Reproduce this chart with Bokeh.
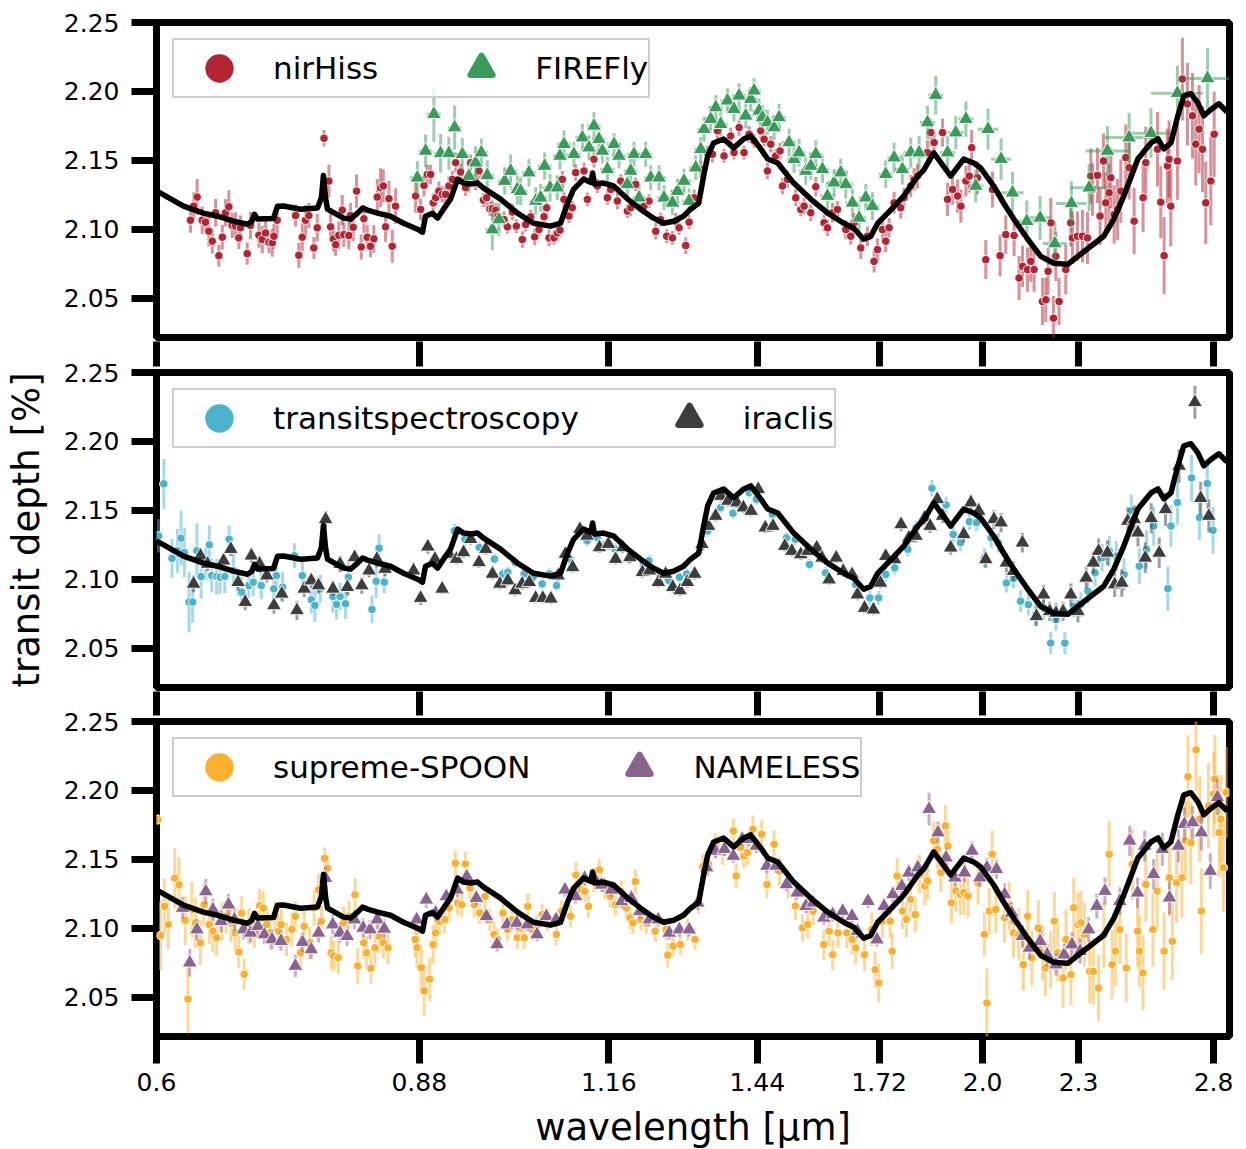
import numpy as np
from bokeh.plotting import figure
from bokeh.models import (ColumnDataSource, Range1d, FixedTicker, Legend, LegendItem,
                          LogAxis, PrintfTickFormatter)
from bokeh.layouts import column
from bokeh.embed import file_html
from bokeh.resources import INLINE

FONT = "DejaVu Sans"

# ---------------- axis ticks ----------------
x_ticks = [0.6, 0.88, 1.16, 1.44, 1.72, 2.0, 2.3, 2.8]
x_tick_labels = ["0.6", "0.88", "1.16", "1.44", "1.72", "2.0", "2.3", "2.8"]
y_ticks = [2.05, 2.10, 2.15, 2.20, 2.25]

# ---------------- model spectrum ----------------
model_wl = [0.600, 0.6035, 0.6241, 0.6425, 0.6558, 0.6712, 0.6851, 0.6895, 0.6921, 0.6952,
            0.7116, 0.7157, 0.7220, 0.7402, 0.7586, 0.7630, 0.7653, 0.7676, 0.7698, 0.7880,
            0.7961, 0.8043, 0.8101, 0.8160, 0.8280, 0.8438, 0.8600, 0.8777, 0.8841, 0.8880,
            0.8971, 0.9037, 0.9116, 0.9210, 0.9305, 0.9386, 0.9482, 0.9580, 0.9664, 0.9906,
            1.0154, 1.0393, 1.0654, 1.0811, 1.0922, 1.1018, 1.1180, 1.1300, 1.1328, 1.1360,
            1.1510, 1.1680, 1.1921, 1.2149, 1.2381, 1.2562, 1.2747, 1.2934, 1.3067, 1.3222,
            1.3318, 1.3397, 1.3514, 1.3713, 1.3914, 1.4119, 1.4264, 1.4474, 1.4622, 1.4837,
            1.5187, 1.5568, 1.5958, 1.6335, 1.6574, 1.6817, 1.6990, 1.7164, 1.7416, 1.7827,
            1.8195, 1.8355, 1.8624, 1.9091, 1.9455, 1.9741, 1.9944, 2.0326, 2.0625, 2.0929,
            2.1360, 2.1768, 2.2185, 2.2642, 2.2975, 2.3414, 2.3862, 2.4214, 2.4568, 2.5077,
            2.5559, 2.5821, 2.6046, 2.6314, 2.6583, 2.6815, 2.7090, 2.7368, 2.7610, 2.7893,
            2.8221, 2.8510, 2.8660]
model_depth = [2.1280, 2.1264, 2.1169, 2.1118, 2.1096, 2.1060, 2.1038, 2.1060, 2.1110, 2.1075,
               2.1080, 2.1169, 2.1170, 2.1147, 2.1155, 2.1230, 2.1392, 2.1230, 2.1147, 2.1082,
               2.1075, 2.1118, 2.1155, 2.1140, 2.1118, 2.1096, 2.1045, 2.1002, 2.0980, 2.1096,
               2.1118, 2.1082, 2.1147, 2.1220, 2.1365, 2.1336, 2.1330, 2.1336, 2.1300, 2.1220,
               2.1118, 2.1045, 2.1024, 2.1045, 2.1190, 2.1290, 2.1365, 2.1340, 2.1409, 2.1330,
               2.1336, 2.1315, 2.1220, 2.1147, 2.1082, 2.1045, 2.1060, 2.1096, 2.1147, 2.1190,
               2.1387, 2.1533, 2.1627, 2.1656, 2.1591, 2.1656, 2.1678, 2.1584, 2.1511, 2.1482,
               2.1336, 2.1220, 2.1118, 2.1045, 2.1009, 2.0929, 2.0950, 2.1045, 2.1118, 2.1242,
               2.1387, 2.1430, 2.1555, 2.1387, 2.1510, 2.1482, 2.1445, 2.1315, 2.1190, 2.1075,
               2.0929, 2.0805, 2.0755, 2.0747, 2.0805, 2.0878, 2.0951, 2.1075, 2.1242, 2.1511,
               2.1627, 2.1656, 2.1584, 2.1627, 2.1824, 2.1969, 2.1984, 2.1918, 2.1824, 2.1870,
               2.1911, 2.1860, 2.1870]

# ---------------- nirHiss ----------------
nirhiss_wl = [0.6305, 0.6335, 0.6366, 0.6413, 0.6444, 0.6476, 0.6508, 0.6540, 0.6571, 0.6604,
              0.6635, 0.6667, 0.6700, 0.6732, 0.6765, 0.6781, 0.6848, 0.6881, 0.6966, 0.7000,
              0.7034, 0.7069, 0.7103, 0.7120, 0.7154, 0.7348, 0.7383, 0.7420, 0.7456, 0.7492,
              0.7547, 0.7584, 0.7659, 0.7714, 0.7733, 0.7764, 0.7790, 0.7826, 0.7865, 0.7883,
              0.7941, 0.7961, 0.7992, 0.8031, 0.8086, 0.8117, 0.8157, 0.8196, 0.8236, 0.8277,
              0.8317, 0.8350, 0.8378, 0.8419, 0.8460, 0.8501, 0.8753, 0.8817, 0.8860, 0.8903,
              0.8946, 0.8980, 0.9012, 0.9055, 0.9100, 0.9144, 0.9188, 0.9234, 0.9279, 0.9346,
              0.9415, 0.9483, 0.9553, 0.9599, 0.9661, 0.9707, 0.9754, 0.9789, 0.9836, 0.9869,
              0.9956, 1.0005, 1.0078, 1.0137, 1.0226, 1.0275, 1.0351, 1.0411, 1.0476, 1.0554,
              1.0595, 1.0631, 1.0708, 1.0761, 1.0802, 1.0840, 1.0865, 1.0945, 1.0998, 1.1052,
              1.1187, 1.1242, 1.1351, 1.1408, 1.1575, 1.1631, 1.1745, 1.1802, 1.1917, 1.1975,
              1.2063, 1.2210, 1.2299, 1.2420, 1.2510, 1.2620, 1.2726, 1.2788, 1.2849, 1.2975,
              1.3039, 1.3135, 1.3262, 1.3392, 1.3490, 1.3589, 1.3720, 1.3854, 1.3921, 1.4024,
              1.4126, 1.4230, 1.4334, 1.4474, 1.4545, 1.4616, 1.4687, 1.4794, 1.4887, 1.4939,
              1.5048, 1.5232, 1.5344, 1.5418, 1.5569, 1.5683, 1.5873, 1.5952, 1.6069, 1.6186,
              1.6383, 1.6503, 1.6583, 1.6746, 1.6909, 1.7074, 1.7157, 1.7283, 1.7366, 1.7451,
              1.7579, 1.7750, 1.7836, 1.8011, 1.8098, 1.8188, 1.8455, 1.8545, 1.8635, 1.8865,
              1.9003, 1.9143, 1.9283, 1.9377, 1.9519, 1.9615, 1.9683, 1.9850, 2.0092, 2.0289,
              2.0515, 2.0686, 2.0938, 2.1091, 2.1196, 2.1351, 2.1454, 2.1557, 2.1822, 2.1928,
              2.2004, 2.2089, 2.2175, 2.2250, 2.2357, 2.2576, 2.2740, 2.2796, 2.2964, 2.3133,
              2.3302, 2.3416, 2.3474, 2.3644, 2.3734, 2.3852, 2.3931, 2.4048, 2.4108, 2.4226,
              2.4344, 2.4462, 2.4640, 2.4760, 2.4941, 2.5269, 2.5368, 2.5804, 2.5929, 2.6055,
              2.6182, 2.6246, 2.6310, 2.6566, 2.6760, 2.6957, 2.7155, 2.7285, 2.7418, 2.7554,
              2.7687, 2.7890, 2.8026]
nirhiss_depth = [2.1067, 2.1169, 2.1235, 2.1067, 2.1053, 2.0987, 2.0915, 2.1121, 2.0810, 2.0944,
                 2.1121, 2.1164, 2.1029, 2.1024, 2.0939, 2.1012, 2.0825, 2.1029, 2.0958, 2.0927,
                 2.0975, 2.0907, 2.0903, 2.0951, 2.1067, 2.1101, 2.0813, 2.0944, 2.1067, 2.1101,
                 2.0866, 2.1012, 2.1661, 2.1351, 2.1019, 2.0932, 2.0890, 2.0958, 2.1140, 2.0963,
                 2.0956, 2.1101, 2.1016, 2.1278, 2.0873, 2.1077, 2.0944, 2.0878, 2.0932, 2.1235,
                 2.1303, 2.1315, 2.1019, 2.1223, 2.0878, 2.1169, 2.1242, 2.1145, 2.1319, 2.1399,
                 2.1399, 2.1193, 2.1230, 2.1278, 2.1254, 2.1254, 2.1315, 2.1363, 2.1484, 2.1416,
                 2.1303, 2.1484, 2.1344, 2.1424, 2.1213, 2.1230, 2.1150, 2.1150, 2.1140, 2.1097,
                 2.1072, 2.1019, 2.1126, 2.1024, 2.0927, 2.1036, 2.1092, 2.0946, 2.0999, 2.1092,
                 2.1157, 2.0939, 2.0939, 2.0975, 2.0995, 2.1363, 2.1218, 2.1097, 2.1157, 2.1412,
                 2.1424, 2.1218, 2.1509, 2.1315, 2.1230, 2.1290, 2.1206, 2.1351, 2.1133, 2.1157,
                 2.1327, 2.1169, 2.1206, 2.0987, 2.1072, 2.0951, 2.0939, 2.1060, 2.1012, 2.0883,
                 2.1053, 2.1230, 2.1436, 2.1557, 2.1545, 2.1715, 2.1533, 2.1678, 2.1557, 2.1739,
                 2.1557, 2.1690, 2.1642, 2.1715, 2.1654, 2.1424, 2.1618, 2.1533, 2.1569, 2.1315,
                 2.1363, 2.1230, 2.1145, 2.1169, 2.1121, 2.1310, 2.1048, 2.1012, 2.1121, 2.1145,
                 2.0999, 2.0951, 2.1048, 2.0866, 2.0951, 2.0769, 2.0854, 2.0999, 2.0915, 2.1012,
                 2.1193, 2.1157, 2.1230, 2.1315, 2.1363, 2.1387, 2.1557, 2.1702, 2.1630, 2.1702,
                 2.1218, 2.1290, 2.1242, 2.1169, 2.1351, 2.1387, 2.1593, 2.1375, 2.0781, 2.1290,
                 2.0810, 2.0963, 2.0956, 2.0648, 2.0733, 2.0709, 2.0769, 2.0709, 2.0478, 2.0490,
                 2.0697, 2.1048, 2.0357, 2.0806, 2.0478, 2.0709, 2.1048, 2.0939, 2.0951, 2.0951,
                 2.0939, 2.1387, 2.1290, 2.1392, 2.1097, 2.1496, 2.1193, 2.1266, 2.1375, 2.1109,
                 2.1145, 2.1278, 2.1521, 2.1448, 2.1060, 2.1230, 2.1484, 2.1581, 2.1198, 2.0810,
                 2.1460, 2.1509, 2.1169, 2.1496, 2.2090, 2.1909, 2.1824, 2.1618, 2.1727, 2.1581,
                 2.1193, 2.1351, 2.1690]
nirhiss_err = [0.009, 0.010, 0.013, 0.010, 0.008, 0.011, 0.009, 0.010, 0.008, 0.009,
               0.010, 0.012, 0.009, 0.010, 0.008, 0.009, 0.008, 0.010, 0.009, 0.010,
               0.009, 0.008, 0.010, 0.009, 0.010, 0.008, 0.009, 0.010, 0.011, 0.009,
               0.008, 0.010, 0.006, 0.012, 0.010, 0.009, 0.008, 0.010, 0.011, 0.009,
               0.010, 0.009, 0.010, 0.012, 0.009, 0.010, 0.009, 0.008, 0.010, 0.013,
               0.014, 0.012, 0.011, 0.013, 0.012, 0.013, 0.012, 0.008, 0.008, 0.007,
               0.007, 0.007, 0.006, 0.007, 0.006, 0.006, 0.007, 0.006, 0.007, 0.006,
               0.006, 0.006, 0.006, 0.006, 0.005, 0.006, 0.005, 0.006, 0.005, 0.005,
               0.006, 0.005, 0.006, 0.005, 0.006, 0.005, 0.005, 0.006, 0.005, 0.006,
               0.005, 0.006, 0.005, 0.006, 0.005, 0.006, 0.006, 0.005, 0.005, 0.006,
               0.006, 0.005, 0.006, 0.005, 0.005, 0.005, 0.006, 0.005, 0.005, 0.006,
               0.005, 0.005, 0.005, 0.006, 0.005, 0.005, 0.005, 0.006, 0.005, 0.006,
               0.005, 0.006, 0.006, 0.005, 0.006, 0.006, 0.005, 0.006, 0.005, 0.006,
               0.005, 0.006, 0.005, 0.006, 0.005, 0.006, 0.006, 0.005, 0.006, 0.006,
               0.006, 0.006, 0.005, 0.006, 0.006, 0.007, 0.006, 0.006, 0.007, 0.006,
               0.007, 0.006, 0.007, 0.008, 0.007, 0.008, 0.008, 0.007, 0.008, 0.007,
               0.008, 0.008, 0.007, 0.008, 0.008, 0.009, 0.009, 0.010, 0.009, 0.010,
               0.012, 0.011, 0.012, 0.012, 0.011, 0.012, 0.013, 0.012, 0.014, 0.013,
               0.015, 0.014, 0.015, 0.016, 0.015, 0.016, 0.015, 0.016, 0.017, 0.016,
               0.017, 0.018, 0.016, 0.018, 0.017, 0.018, 0.017, 0.019, 0.018, 0.019,
               0.019, 0.020, 0.019, 0.020, 0.021, 0.020, 0.022, 0.021, 0.022, 0.021,
               0.022, 0.023, 0.024, 0.023, 0.024, 0.025, 0.026, 0.027, 0.026, 0.028,
               0.027, 0.028, 0.029, 0.028, 0.030, 0.030, 0.031, 0.030, 0.032, 0.031,
               0.030, 0.032, 0.031]

# ---------------- FIREFly ----------------
firefly_wl = [0.8775, 0.8881, 0.8989, 0.9077, 0.9188, 0.9265, 0.9369, 0.9460, 0.9553, 0.9633,
              0.9716, 0.9789, 0.9883, 0.9966, 1.0053, 1.0151, 1.0201, 1.0325, 1.0426, 1.0502,
              1.0564, 1.0647, 1.0761, 1.0802, 1.0865, 1.1024, 1.1161, 1.1269, 1.1351, 1.1434,
              1.1491, 1.1575, 1.1688, 1.1773, 1.1917, 1.1975, 1.2033, 1.2122, 1.2240, 1.2330,
              1.2480, 1.2571, 1.2726, 1.2819, 1.2943, 1.3039, 1.3166, 1.3262, 1.3327, 1.3457,
              1.3556, 1.3655, 1.3788, 1.3921, 1.4024, 1.4161, 1.4264, 1.4334, 1.4439, 1.4509,
              1.4616, 1.4758, 1.4865, 1.5084, 1.5193, 1.5306, 1.5456, 1.5569, 1.5683, 1.5836,
              1.5952, 1.6107, 1.6264, 1.6383, 1.6543, 1.6705, 1.6868, 1.7033, 1.7366, 1.7579,
              1.7793, 1.8011, 1.8231, 1.8455, 1.8679, 1.9003, 1.9232, 1.9519, 1.9801, 2.0160,
              2.0545, 2.0889, 2.1329, 2.1747, 2.2218, 2.2762, 2.3359, 2.3990, 2.4760, 2.5559,
              2.6566, 2.7755]
firefly_depth = [2.1375, 2.1569, 2.1836, 2.1552, 2.1552, 2.1739, 2.1545, 2.1387, 2.1484, 2.1557,
                 2.1392, 2.0999, 2.1072, 2.1351, 2.1424, 2.1290, 2.1278, 2.1412, 2.1206, 2.1230,
                 2.1460, 2.1303, 2.1303, 2.1533, 2.1618, 2.1545, 2.1666, 2.1593, 2.1751, 2.1654,
                 2.1569, 2.1436, 2.1618, 2.1533, 2.1327, 2.1424, 2.1545, 2.1230, 2.1545, 2.1375,
                 2.1375, 2.1230, 2.1193, 2.1278, 2.1351, 2.1206, 2.1448, 2.1581, 2.1727, 2.1800,
                 2.1884, 2.1763, 2.1933, 2.1872, 2.1969, 2.1824, 2.1945, 2.2006, 2.1860, 2.1812,
                 2.1775, 2.1739, 2.1812, 2.1630, 2.1509, 2.1557, 2.1424, 2.1460, 2.1545, 2.1436,
                 2.1242, 2.1339, 2.1412, 2.1327, 2.1193, 2.1084, 2.1230, 2.1169, 2.1400, 2.1521,
                 2.1436, 2.1557, 2.1557, 2.1775, 2.1974, 2.1557, 2.1702, 2.1800, 2.1315, 2.1727,
                 2.1509, 2.1266, 2.1060, 2.1084, 2.0898, 2.1189, 2.1303, 2.1569, 2.1666, 2.1698,
                 2.1988, 2.2095]
firefly_err = [0.012, 0.012, 0.020, 0.014, 0.012, 0.016, 0.012, 0.012, 0.012, 0.010,
               0.011, 0.015, 0.012, 0.010, 0.012, 0.011, 0.010, 0.010, 0.010, 0.010,
               0.010, 0.010, 0.009, 0.010, 0.010, 0.009, 0.010, 0.009, 0.010, 0.009,
               0.009, 0.009, 0.008, 0.009, 0.009, 0.009, 0.009, 0.010, 0.009, 0.009,
               0.009, 0.009, 0.009, 0.009, 0.009, 0.009, 0.009, 0.009, 0.009, 0.009,
               0.009, 0.009, 0.009, 0.009, 0.009, 0.009, 0.009, 0.009, 0.009, 0.009,
               0.009, 0.009, 0.010, 0.010, 0.010, 0.010, 0.010, 0.010, 0.010, 0.010,
               0.010, 0.010, 0.010, 0.010, 0.010, 0.010, 0.010, 0.010, 0.010, 0.011,
               0.011, 0.011, 0.012, 0.012, 0.014, 0.012, 0.012, 0.013, 0.012, 0.015,
               0.015, 0.015, 0.015, 0.016, 0.016, 0.016, 0.017, 0.018, 0.018, 0.018,
               0.020, 0.022]
firefly_xerr = [0.009, 0.009, 0.009, 0.009, 0.009, 0.009, 0.009, 0.009, 0.009, 0.009,
                0.010, 0.010, 0.010, 0.010, 0.010, 0.010, 0.010, 0.010, 0.010, 0.010,
                0.011, 0.011, 0.011, 0.011, 0.011, 0.011, 0.011, 0.011, 0.011, 0.011,
                0.012, 0.012, 0.012, 0.012, 0.012, 0.012, 0.012, 0.012, 0.012, 0.012,
                0.013, 0.013, 0.013, 0.013, 0.013, 0.013, 0.013, 0.013, 0.013, 0.013,
                0.014, 0.014, 0.014, 0.014, 0.014, 0.014, 0.014, 0.014, 0.014, 0.014,
                0.015, 0.015, 0.015, 0.015, 0.015, 0.015, 0.015, 0.015, 0.015, 0.015,
                0.017, 0.017, 0.017, 0.017, 0.017, 0.017, 0.017, 0.017, 0.017, 0.017,
                0.019, 0.019, 0.020, 0.020, 0.020, 0.021, 0.021, 0.022, 0.022, 0.030,
                0.030, 0.034, 0.034, 0.036, 0.039, 0.050, 0.062, 0.075, 0.085, 0.090,
                0.100, 0.090]

# ---------------- transitspectroscopy ----------------
ts_wl = [0.6018, 0.6064, 0.6137, 0.6186, 0.6218, 0.6249, 0.6292, 0.6325, 0.6364, 0.6403,
         0.6447, 0.6480, 0.6503, 0.6550, 0.6583, 0.6628, 0.6670, 0.6712, 0.6757, 0.6793,
         0.6864, 0.6908, 0.6990, 0.7119, 0.7145, 0.7211, 0.7336, 0.7421, 0.7518, 0.7558,
         0.7617, 0.7759, 0.7800, 0.7841, 0.7903, 0.7936, 0.8213, 0.8264, 0.8299, 0.8363,
         0.9261, 0.9405, 0.9603, 0.9817, 0.9935, 1.0012, 1.0118, 1.0252, 1.0387, 1.0525,
         1.0636, 1.0750, 1.0963, 1.1110, 1.1237, 1.1403, 1.1553, 1.1704, 1.1950, 1.2203,
         1.2297, 1.2459, 1.2659, 1.2859, 1.2994, 1.3262, 1.3400, 1.3650, 1.3900, 1.4080,
         1.4233, 1.4382, 1.4722, 1.5026, 1.5222, 1.5542, 1.5908, 1.6622, 1.6969, 1.7188,
         1.7366, 1.7594, 1.7932, 1.8148, 1.8575, 1.8963, 1.9162, 1.9363, 1.9618, 1.9825,
         2.0051, 2.0250, 2.0463, 2.0704, 2.0919, 2.1138, 2.1378, 2.1601, 2.1857, 2.2086,
         2.2257, 2.2546, 2.2841, 2.3078, 2.3319, 2.3561, 2.3806, 2.4054, 2.4302, 2.4578,
         2.4837, 2.5132, 2.5395, 2.5662, 2.6198, 2.6314, 2.6566, 2.7118, 2.7432, 2.7745,
         2.7980]
ts_depth = [2.1316, 2.1693, 2.1153, 2.1208, 2.1299, 2.1196, 2.0836, 2.0836, 2.1208, 2.1021,
            2.1112, 2.1251, 2.1028, 2.1021, 2.1016, 2.1021, 2.1292, 2.1064, 2.0980, 2.0908,
            2.0956, 2.0980, 2.0956, 2.0932, 2.1028, 2.0944, 2.1172, 2.1028, 2.0853, 2.0812,
            2.0932, 2.0877, 2.0819, 2.0877, 2.0824, 2.1016, 2.0783, 2.0987, 2.1227, 2.0980,
            2.1352, 2.1292, 2.1232, 2.1148, 2.1040, 2.1052, 2.1124, 2.1040, 2.1016, 2.0968,
            2.1040, 2.0956, 2.1148, 2.1352, 2.1280, 2.1304, 2.1256, 2.1220, 2.1148, 2.1112,
            2.1136, 2.1052, 2.0992, 2.1016, 2.1040, 2.1232, 2.1352, 2.1520, 2.1480, 2.1530,
            2.1630, 2.1581, 2.1472, 2.1302, 2.1290, 2.1108, 2.1048, 2.0963, 2.0866, 2.0866,
            2.1036, 2.1084, 2.1218, 2.1375, 2.1661, 2.1540, 2.1327, 2.1266, 2.1419, 2.1412,
            2.1157, 2.1302, 2.1266, 2.0975, 2.1007, 2.0842, 2.0818, 2.0745, 2.0793, 2.0539,
            2.0709, 2.0539, 2.0805, 2.0818, 2.0915, 2.1048, 2.1157, 2.1206, 2.1169, 2.1036,
            2.1496, 2.1096, 2.1218, 2.1387, 2.0934, 2.1387, 2.1557, 2.1736, 2.1448, 2.1695,
            2.1356]
ts_err = [0.012, 0.018, 0.014, 0.016, 0.020, 0.018, 0.022, 0.015, 0.020, 0.016,
          0.012, 0.014, 0.012, 0.013, 0.012, 0.012, 0.010, 0.012, 0.010, 0.011,
          0.009, 0.010, 0.010, 0.012, 0.010, 0.011, 0.009, 0.012, 0.010, 0.012,
          0.010, 0.012, 0.011, 0.010, 0.011, 0.013, 0.010, 0.012, 0.010, 0.008,
          0.005, 0.005, 0.004, 0.004, 0.004, 0.004, 0.004, 0.004, 0.004, 0.004,
          0.004, 0.004, 0.004, 0.004, 0.004, 0.004, 0.004, 0.004, 0.004, 0.004,
          0.004, 0.004, 0.004, 0.004, 0.004, 0.004, 0.004, 0.004, 0.004, 0.004,
          0.004, 0.004, 0.004, 0.004, 0.004, 0.004, 0.004, 0.005, 0.005, 0.005,
          0.005, 0.005, 0.005, 0.005, 0.006, 0.006, 0.006, 0.006, 0.006, 0.006,
          0.007, 0.007, 0.007, 0.007, 0.007, 0.008, 0.008, 0.008, 0.008, 0.008,
          0.008, 0.008, 0.008, 0.009, 0.009, 0.010, 0.010, 0.011, 0.011, 0.012,
          0.012, 0.013, 0.014, 0.014, 0.016, 0.015, 0.016, 0.017, 0.016, 0.018,
          0.017]

# ---------------- iraclis ----------------
ir_wl = [0.6333, 0.6397, 0.6464, 0.6616, 0.6686, 0.6757, 0.6828, 0.6890, 0.6973, 0.7047,
         0.7120, 0.7202, 0.7363, 0.7441, 0.7518, 0.7598, 0.7677, 0.7759, 0.7841, 0.7924,
         0.8008, 0.8092, 0.8178, 0.8272, 0.8372, 0.8726, 0.8817, 0.8910, 0.9003, 0.9098,
         0.9193, 0.9290, 0.9387, 0.9484, 0.9600, 0.9695, 0.9791, 0.9897, 1.0012, 1.0118,
         1.0222, 1.0330, 1.0426, 1.0536, 1.0661, 1.0773, 1.0889, 1.1003, 1.1120, 1.1236,
         1.1442, 1.1592, 1.1714, 1.1837, 1.1960, 1.2181, 1.2307, 1.2468, 1.2600, 1.2733,
         1.2868, 1.3006, 1.3146, 1.3286, 1.3414, 1.3553, 1.3658, 1.3799, 1.3980, 1.4112,
         1.4273, 1.4421, 1.4570, 1.4735, 1.4990, 1.5146, 1.5343, 1.5503, 1.5705, 1.5826,
         1.5990, 1.6156, 1.6324, 1.6535, 1.6664, 1.6838, 1.7056, 1.7233, 1.7366, 1.7594,
         1.7759, 1.7961, 1.8148, 1.8382, 1.8528, 1.8720, 1.8867, 1.9091, 1.9458, 1.9661,
         1.9886, 2.0092, 2.0332, 2.0545, 2.0704, 2.0919, 2.1193, 2.1633, 2.1857, 2.2054,
         2.2257, 2.2488, 2.2744, 2.2981, 2.3258, 2.3500, 2.3683, 2.3991, 2.4244, 2.4497,
         2.4712, 2.4946, 2.5080, 2.5350, 2.5570, 2.5870, 2.6110, 2.6630, 2.7250, 2.7480,
         2.7810]
ir_depth = [2.0968, 2.1172, 2.1112, 2.1136, 2.1220, 2.0980, 2.0836, 2.1172, 2.1112, 2.1028,
            2.0812, 2.0896, 2.0776, 2.0932, 2.0992, 2.0956, 2.1436, 2.0932, 2.1112, 2.0944,
            2.1160, 2.0956, 2.1064, 2.1148, 2.1076, 2.1064, 2.0865, 2.1237, 2.1148, 2.0932,
            2.1184, 2.1148, 2.1196, 2.1292, 2.1124, 2.1220, 2.1040, 2.0968, 2.0992, 2.0920,
            2.0968, 2.0980, 2.0865, 2.0865, 2.0860, 2.1028, 2.1184, 2.1088, 2.1364, 2.1316,
            2.1232, 2.1256, 2.1148, 2.1232, 2.1160, 2.1052, 2.1064, 2.0980, 2.1040, 2.0944,
            2.0920, 2.0980, 2.1040, 2.1256, 2.1387, 2.1460, 2.1605, 2.1569, 2.1557, 2.1521,
            2.1496, 2.1654, 2.1375, 2.1387, 2.1242, 2.1206, 2.1181, 2.1206, 2.1230, 2.1157,
            2.0999, 2.1157, 2.1060, 2.1036, 2.0890, 2.0793, 2.0781, 2.0975, 2.1169, 2.1145,
            2.1399, 2.1302, 2.1315, 2.1448, 2.1387, 2.1581, 2.1460, 2.1230, 2.1327, 2.1557,
            2.1496, 2.1145, 2.1436, 2.1412, 2.1121, 2.1060, 2.1266, 2.0733, 2.0890, 2.0769,
            2.0757, 2.0769, 2.0890, 2.0769, 2.1012, 2.1121, 2.1206, 2.1193, 2.0963, 2.0975,
            2.1424, 2.1436, 2.1339, 2.1157, 2.1443, 2.1193, 2.1508, 2.1823, 2.2284, 2.1589,
            2.1460]
ir_err = [0.006, 0.005, 0.005, 0.006, 0.005, 0.006, 0.006, 0.005, 0.006, 0.005,
          0.006, 0.005, 0.007, 0.006, 0.005, 0.006, 0.006, 0.005, 0.006, 0.006,
          0.005, 0.006, 0.005, 0.006, 0.005, 0.006, 0.005, 0.005, 0.004, 0.004,
          0.004, 0.004, 0.004, 0.004, 0.004, 0.004, 0.004, 0.004, 0.004, 0.004,
          0.004, 0.004, 0.004, 0.004, 0.004, 0.004, 0.004, 0.004, 0.004, 0.004,
          0.004, 0.004, 0.004, 0.004, 0.004, 0.004, 0.004, 0.004, 0.004, 0.004,
          0.004, 0.004, 0.004, 0.004, 0.004, 0.004, 0.004, 0.004, 0.004, 0.004,
          0.004, 0.004, 0.004, 0.004, 0.004, 0.004, 0.004, 0.004, 0.004, 0.004,
          0.004, 0.004, 0.004, 0.004, 0.004, 0.004, 0.004, 0.004, 0.004, 0.004,
          0.005, 0.005, 0.005, 0.005, 0.005, 0.005, 0.005, 0.005, 0.006, 0.006,
          0.006, 0.006, 0.007, 0.007, 0.007, 0.007, 0.007, 0.007, 0.007, 0.007,
          0.007, 0.007, 0.008, 0.008, 0.008, 0.008, 0.009, 0.009, 0.009, 0.010,
          0.010, 0.010, 0.010, 0.011, 0.011, 0.011, 0.012, 0.012, 0.012, 0.012,
          0.012]

# ---------------- supreme-SPOON ----------------
sp_wl = [0.6011, 0.6035, 0.6070, 0.6104, 0.6162, 0.6200, 0.6256, 0.6282, 0.6317, 0.6349,
         0.6397, 0.6431, 0.6480, 0.6514, 0.6550, 0.6600, 0.6642, 0.6686, 0.6728, 0.6764,
         0.6793, 0.6818, 0.6864, 0.6919, 0.6973, 0.7010, 0.7047, 0.7083, 0.7132, 0.7170,
         0.7196, 0.7252, 0.7308, 0.7346, 0.7402, 0.7441, 0.7499, 0.7550, 0.7598, 0.7630,
         0.7666, 0.7698, 0.7739, 0.7767, 0.7820, 0.7881, 0.7943, 0.8013, 0.8045, 0.8116,
         0.8150, 0.8201, 0.8248, 0.8299, 0.8351, 0.8408, 0.8748, 0.8771, 0.8826, 0.8862,
         0.8934, 0.8979, 0.9012, 0.9064, 0.9131, 0.9193, 0.9275, 0.9304, 0.9362, 0.9411,
         0.9475, 0.9534, 0.9610, 0.9685, 0.9752, 0.9813, 0.9863, 0.9941, 1.0008, 1.0071,
         1.0150, 1.0202, 1.0255, 1.0308, 1.0377, 1.0442, 1.0525, 1.0606, 1.0746, 1.0829,
         1.0971, 1.1057, 1.1145, 1.1202, 1.1261, 1.1351, 1.1440, 1.1531, 1.1622, 1.1714,
         1.1807, 1.1900, 1.1963, 1.2013, 1.2057, 1.2154, 1.2249, 1.2411, 1.2608, 1.2640,
         1.2739, 1.2874, 1.3011, 1.3151, 1.3220, 1.3297, 1.3411, 1.3551, 1.3692, 1.3908,
         1.3965, 1.4051, 1.4125, 1.4197, 1.4309, 1.4493, 1.4605, 1.4758, 1.4875, 1.5066,
         1.5223, 1.5382, 1.5501, 1.5621, 1.5867, 1.5990, 1.6072, 1.6198, 1.6407, 1.6535,
         1.6622, 1.6838, 1.7014, 1.7101, 1.7190, 1.7279, 1.7476, 1.7530, 1.7657, 1.7795,
         1.7896, 1.8009, 1.8130, 1.8241, 1.8383, 1.8460, 1.8623, 1.8721, 1.8817, 1.8943,
         1.9012, 1.9109, 1.9238, 1.9359, 1.9458, 1.9580, 1.9865, 2.0051, 2.0124, 2.0198,
         2.0280, 2.0387, 2.0650, 2.0789, 2.0920, 2.1082, 2.1224, 2.1357, 2.1489, 2.1690,
         2.1826, 2.1915, 2.2086, 2.2202, 2.2315, 2.2488, 2.2583, 2.2745, 2.2841, 2.2981,
         2.3079, 2.3197, 2.3377, 2.3500, 2.3682, 2.3866, 2.4050, 2.4153, 2.4265, 2.4429,
         2.4657, 2.4874, 2.5066, 2.5133, 2.5261, 2.5368, 2.5632, 2.5789, 2.6058, 2.6260,
         2.6371, 2.6532, 2.6739, 2.6879, 2.6977, 2.7088, 2.7297, 2.7442, 2.7510, 2.7796,
         2.8012, 2.8057, 2.8233, 2.8303, 2.8406, 2.8526]
sp_depth = [2.1789, 2.0949, 2.1160, 2.1028, 2.1364, 2.1316, 2.1059, 2.0488, 2.1136, 2.1040,
            2.0896, 2.1172, 2.1028, 2.0980, 2.0932, 2.1052, 2.1088, 2.1040, 2.0968, 2.0829,
            2.1112, 2.0668, 2.1016, 2.0980, 2.1165, 2.1148, 2.1028, 2.0968, 2.1088, 2.0980,
            2.1028, 2.0920, 2.0992, 2.1088, 2.0824, 2.1016, 2.0896, 2.1148, 2.1280, 2.1052,
            2.1508, 2.1436, 2.0824, 2.0800, 2.0788, 2.1040, 2.1088, 2.1244, 2.0728, 2.0896,
            2.0824, 2.0711, 2.0860, 2.0944, 2.0896, 2.0860, 2.0920, 2.0860, 2.0716, 2.0548,
            2.0632, 2.0884, 2.0968, 2.1052, 2.1064, 2.1148, 2.1472, 2.1184, 2.1172, 2.1467,
            2.1292, 2.1172, 2.1112, 2.1232, 2.1064, 2.0956, 2.0920, 2.1112, 2.0992, 2.1064,
            2.0932, 2.1004, 2.0932, 2.1160, 2.0992, 2.1016, 2.1100, 2.1064, 2.0956, 2.1124,
            2.1088, 2.1388, 2.1280, 2.1268, 2.1160, 2.1352, 2.1424, 2.1292, 2.1232, 2.1172,
            2.1268, 2.1148, 2.1076, 2.1040, 2.1340, 2.1064, 2.1040, 2.0980, 2.0992, 2.0807,
            2.0872, 2.0884, 2.0992, 2.0920, 2.1196, 2.1448, 2.1465, 2.1598, 2.1550, 2.1707,
            2.1380, 2.1586, 2.1525, 2.1550, 2.1719, 2.1683, 2.1319, 2.1610, 2.1416, 2.1319,
            2.1162, 2.1004, 2.1029, 2.1125, 2.0883, 2.0980, 2.0810, 2.0968, 2.0968, 2.0920,
            2.0859, 2.0810, 2.0992, 2.0701, 2.0604, 2.1053, 2.1053, 2.0835, 2.1380, 2.1126,
            2.1065, 2.1210, 2.1101, 2.1392, 2.1307, 2.1344, 2.1635, 2.1574, 2.1404, 2.1744,
            2.1598, 2.1186, 2.1271, 2.1247, 2.1259, 2.1235, 2.1332, 2.0956, 2.0460, 2.1126,
            2.1538, 2.1138, 2.1077, 2.1162, 2.0968, 2.0956, 2.0738, 2.1089, 2.0786, 2.1004,
            2.0823, 2.0713, 2.0774, 2.1053, 2.0823, 2.0641, 2.0920, 2.0665, 2.1150, 2.1029,
            2.1041, 2.0956, 2.0689, 2.0689, 2.0568, 2.0956, 2.1538, 2.0738, 2.0835, 2.0992,
            2.0713, 2.1465, 2.0980, 2.0835, 2.0677, 2.1319, 2.0992, 2.1271, 2.0835, 2.1368,
            2.0907, 2.1332, 2.1368, 2.1635, 2.2100, 2.1622, 2.2294, 2.1792, 2.1126, 2.1889,
            2.1974, 2.2083, 2.1695, 2.1792, 2.1441, 2.1986]
sp_err = [0.004, 0.025, 0.020, 0.018, 0.022, 0.020, 0.018, 0.025, 0.020, 0.018,
          0.016, 0.015, 0.014, 0.015, 0.013, 0.014, 0.012, 0.014, 0.013, 0.012,
          0.012, 0.011, 0.013, 0.012, 0.012, 0.012, 0.011, 0.012, 0.011, 0.012,
          0.011, 0.012, 0.012, 0.011, 0.012, 0.011, 0.012, 0.013, 0.012, 0.011,
          0.008, 0.010, 0.012, 0.011, 0.012, 0.012, 0.011, 0.012, 0.013, 0.012,
          0.012, 0.011, 0.012, 0.012, 0.011, 0.012, 0.013, 0.015, 0.016, 0.018,
          0.016, 0.014, 0.012, 0.010, 0.010, 0.010, 0.009, 0.009, 0.009, 0.009,
          0.009, 0.009, 0.008, 0.009, 0.008, 0.009, 0.008, 0.008, 0.008, 0.008,
          0.008, 0.008, 0.008, 0.009, 0.008, 0.008, 0.008, 0.008, 0.008, 0.008,
          0.008, 0.009, 0.008, 0.008, 0.008, 0.009, 0.008, 0.008, 0.008, 0.008,
          0.008, 0.008, 0.008, 0.008, 0.009, 0.008, 0.008, 0.008, 0.008, 0.009,
          0.008, 0.008, 0.008, 0.008, 0.009, 0.009, 0.009, 0.009, 0.009, 0.009,
          0.009, 0.009, 0.009, 0.009, 0.010, 0.010, 0.010, 0.010, 0.010, 0.010,
          0.010, 0.010, 0.010, 0.010, 0.011, 0.011, 0.011, 0.011, 0.011, 0.011,
          0.012, 0.012, 0.012, 0.013, 0.014, 0.012, 0.012, 0.013, 0.013, 0.013,
          0.013, 0.013, 0.013, 0.014, 0.014, 0.014, 0.014, 0.014, 0.014, 0.015,
          0.015, 0.015, 0.015, 0.015, 0.016, 0.016, 0.016, 0.016, 0.025, 0.017,
          0.017, 0.017, 0.018, 0.018, 0.018, 0.019, 0.019, 0.019, 0.020, 0.020,
          0.020, 0.020, 0.021, 0.021, 0.021, 0.022, 0.022, 0.022, 0.022, 0.023,
          0.023, 0.023, 0.023, 0.024, 0.024, 0.024, 0.024, 0.025, 0.025, 0.025,
          0.025, 0.026, 0.026, 0.026, 0.027, 0.027, 0.027, 0.028, 0.028, 0.028,
          0.028, 0.029, 0.029, 0.029, 0.030, 0.030, 0.030, 0.031, 0.031, 0.031,
          0.031, 0.032, 0.032, 0.032, 0.032, 0.033]

# ---------------- NAMELESS ----------------
nm_wl = [0.6233, 0.6298, 0.6364, 0.6447, 0.6514, 0.6593, 0.6663, 0.6722, 0.6811, 0.6882,
         0.6955, 0.7021, 0.7100, 0.7194, 0.7346, 0.7423, 0.7518, 0.7598, 0.7677, 0.7757,
         0.7839, 0.7922, 0.8006, 0.8108, 0.8191, 0.8276, 0.8361, 0.8767, 0.8890, 0.9012,
         0.9153, 0.9297, 0.9430, 0.9563, 0.9704, 0.9856, 1.0001, 1.0143, 1.0302, 1.0447,
         1.0590, 1.0741, 1.0881, 1.1052, 1.1197, 1.1356, 1.1475, 1.1644, 1.1817, 1.1987,
         1.2133, 1.2305, 1.2466, 1.2667, 1.2855, 1.3041, 1.3206, 1.3378, 1.3551, 1.3728,
         1.3908, 1.4088, 1.4234, 1.4382, 1.4605, 1.4797, 1.5026, 1.5263, 1.5460, 1.5621,
         1.5867, 1.6072, 1.6310, 1.6535, 1.6665, 1.6924, 1.7145, 1.7324, 1.7548, 1.7777,
         1.7961, 1.8196, 1.8498, 1.8740, 1.8962, 1.9210, 1.9481, 1.9692, 1.9917, 2.0124,
         2.0407, 2.0650, 2.0865, 2.1196, 2.1413, 2.1747, 2.1973, 2.2256, 2.2524, 2.2782,
         2.3055, 2.3343, 2.3620, 2.3903, 2.4429, 2.4780, 2.5066, 2.5327, 2.5658, 2.5990,
         2.6260, 2.6602, 2.6836, 2.7159, 2.7510, 2.7869, 2.8159]
nm_depth = [2.1148, 2.0752, 2.0992, 2.1268, 2.1136, 2.1052, 2.1172, 2.1064, 2.0992, 2.0968,
            2.1016, 2.0956, 2.0920, 2.0908, 2.0728, 2.0901, 2.0848, 2.0968, 2.1364, 2.1028,
            2.0968, 2.0944, 2.1064, 2.1004, 2.0992, 2.1064, 2.0997, 2.1064, 2.1208, 2.1112,
            2.1232, 2.1280, 2.1376, 2.1220, 2.1088, 2.0884, 2.1028, 2.1040, 2.1028, 2.0956,
            2.1088, 2.1064, 2.1280, 2.1232, 2.1364, 2.1364, 2.1316, 2.1280, 2.1196, 2.1220,
            2.1124, 2.1064, 2.1064, 2.0968, 2.0992, 2.0992, 2.1186, 2.1441, 2.1562, 2.1574,
            2.1525, 2.1647, 2.1647, 2.1598, 2.1453, 2.1453, 2.1319, 2.1259, 2.1162, 2.1186,
            2.1077, 2.1101, 2.1126, 2.1089, 2.0980, 2.1198, 2.0919, 2.1162, 2.1247, 2.1307,
            2.1404, 2.1441, 2.1865, 2.1695, 2.1513, 2.1368, 2.1404, 2.1562, 2.1368, 2.1441,
            2.1429, 2.1247, 2.1113, 2.0944, 2.0859, 2.0907, 2.0810, 2.0738, 2.0810, 2.0883,
            2.0835, 2.0992, 2.1162, 2.1271, 2.1198, 2.1635, 2.1259, 2.1598, 2.1392, 2.1574,
            2.1223, 2.1598, 2.1756, 2.1768, 2.1695, 2.1416, 2.1950]
nm_err = [0.008, 0.010, 0.008, 0.009, 0.008, 0.008, 0.008, 0.008, 0.007, 0.007,
          0.007, 0.007, 0.007, 0.007, 0.008, 0.007, 0.007, 0.007, 0.008, 0.007,
          0.007, 0.007, 0.007, 0.007, 0.007, 0.007, 0.007, 0.006, 0.006, 0.006,
          0.005, 0.005, 0.005, 0.005, 0.005, 0.005, 0.005, 0.005, 0.005, 0.005,
          0.005, 0.005, 0.005, 0.005, 0.005, 0.005, 0.005, 0.005, 0.005, 0.005,
          0.005, 0.005, 0.005, 0.005, 0.005, 0.005, 0.005, 0.005, 0.005, 0.005,
          0.005, 0.005, 0.005, 0.005, 0.005, 0.005, 0.005, 0.005, 0.005, 0.005,
          0.005, 0.005, 0.005, 0.005, 0.005, 0.005, 0.005, 0.006, 0.006, 0.006,
          0.006, 0.006, 0.012, 0.008, 0.007, 0.007, 0.007, 0.007, 0.007, 0.007,
          0.007, 0.008, 0.008, 0.008, 0.008, 0.008, 0.008, 0.008, 0.008, 0.009,
          0.009, 0.009, 0.009, 0.010, 0.010, 0.011, 0.011, 0.011, 0.011, 0.012,
          0.012, 0.012, 0.012, 0.012, 0.013, 0.013, 0.013]

# ---------------- colours ----------------
RED = "#b22634"
GREEN = "#3a9c5a"
CYAN = "#4bb3cc"
GRAY = "#3d3d3d"
ORANGE = "#fbb030"
PURPLE = "#8a6491"

X_RANGE = (0.6, 2.866)
Y_RANGE = (2.0217, 2.25)


def make_source(wl, depth, err, xerr=None):
    n = min(len(wl), len(depth), len(err))
    w = np.array(wl[:n], dtype=float)
    d = np.array(depth[:n], dtype=float)
    e = np.array(err[:n], dtype=float)
    data = dict(x=w, y=d, lo=d - e, hi=d + e)
    if xerr is not None:
        xe = np.array(xerr[:n], dtype=float)
        data["xlo"] = w - xe
        data["xhi"] = w + xe
    return ColumnDataSource(data)


def make_fig(top, bottom, show_xlabels):
    p = figure(frame_width=1073, frame_height=315, x_axis_type="log",
               x_range=Range1d(*X_RANGE), y_range=Range1d(*Y_RANGE),
               x_axis_location="below" if show_xlabels else None,
               output_backend="svg", toolbar_location=None, title=None,
               min_border_left=156, min_border_right=6,
               min_border_top=top, min_border_bottom=bottom)
    p.grid.visible = False
    p.outline_line_color = "black"
    p.outline_line_width = 7
    p.outline_line_alpha = 1.0
    p.background_fill_color = "white"
    p.border_fill_color = "white"
    ya = p.yaxis[0]
    ya.ticker = FixedTicker(ticks=y_ticks)
    ya.formatter = PrintfTickFormatter(format="%.2f")
    ya.major_tick_out = 25
    ya.major_tick_in = 0
    ya.major_tick_line_width = 7
    ya.major_tick_line_color = "black"
    ya.minor_tick_line_color = None
    ya.axis_line_color = None
    ya.major_label_text_font = FONT
    ya.major_label_text_font_size = "25px"
    ya.major_label_text_color = "black"
    ya.major_label_standoff = 12
    if show_xlabels:
        xa = p.xaxis[0]
        xa.ticker = FixedTicker(ticks=x_ticks)
        xa.major_label_overrides = dict(zip(x_ticks, x_tick_labels))
        xa.major_tick_out = 27
        xa.major_tick_in = 0
        xa.major_tick_line_width = 7
        xa.major_tick_line_color = "black"
        xa.minor_tick_line_color = None
        xa.axis_line_color = None
        xa.major_label_text_font = FONT
        xa.major_label_text_font_size = "25px"
        xa.major_label_text_color = "black"
        xa.major_label_standoff = 9
        xa.axis_label = "wavelength [\u03bcm]"
        xa.axis_label_text_font = FONT
        xa.axis_label_text_font_size = "37px"
        xa.axis_label_text_font_style = "normal"
        xa.axis_label_text_color = "black"
        xa.axis_label_standoff = 12
    return p


def add_top_ticks(p, tout):
    ax = LogAxis(ticker=FixedTicker(ticks=x_ticks), major_tick_in=-6, major_tick_out=tout,
                 major_tick_line_width=7, major_tick_line_color="black",
                 minor_tick_line_color=None, axis_line_color=None,
                 major_label_text_font_size="0px", major_label_standoff=0,
                 major_label_overrides={t: "" for t in x_ticks})
    p.add_layout(ax, "above")


def draw_series(p, s, color, marker, size, xerr=False):
    if xerr:
        p.segment(x0="xlo", y0="y", x1="xhi", y1="y", source=s,
                  line_color=color, line_alpha=0.5, line_width=3)
    p.segment(x0="x", y0="lo", x1="x", y1="hi", source=s,
              line_color=color, line_alpha=0.5, line_width=3)
    p.scatter("x", "y", source=s, marker=marker, size=size,
              fill_color=color, line_color="white", line_width=0.9)
    # legend-only proxy (a single NaN point: never drawn inside the frame)
    proxy_src = ColumnDataSource(dict(x=[np.nan], y=[np.nan]))
    proxy = p.scatter("x", "y", source=proxy_src, marker=marker, size=size,
                      fill_color=color, line_color=color,
                      line_width=6, line_join="round")
    return proxy


def add_legend(p, entries, spacing):
    items = [LegendItem(label=lab, renderers=[r]) for lab, r in entries]
    lg = Legend(items=items, orientation="horizontal", location="top_left",
                margin=16, padding=0, spacing=spacing,
                glyph_width=90, glyph_height=56, label_standoff=9,
                label_text_font=FONT, label_text_font_size="31px",
                label_text_color="black",
                border_line_color="#cccccc", border_line_width=2, border_line_alpha=1.0,
                background_fill_color="white", background_fill_alpha=0.8)
    p.add_layout(lg)


def add_model(p):
    p.line(model_wl, model_depth, line_color="black", line_width=5.5, line_join="round")


# ---------------- panel 1 ----------------
p1 = make_fig(22, 4, False)
s_nh = make_source(nirhiss_wl, nirhiss_depth, nirhiss_err)
s_ff = make_source(firefly_wl, firefly_depth, firefly_err, firefly_xerr)
r_nh = draw_series(p1, s_nh, RED, "circle", 8.5)
r_ff = draw_series(p1, s_ff, GREEN, "triangle", 15, xerr=True)
add_model(p1)
add_legend(p1, [("nirHiss", r_nh), ("FIREFly", r_ff)], 58)

# ---------------- panel 2 ----------------
p2 = make_fig(31, 4, False)
add_top_ticks(p2, 31)
s_ts = make_source(ts_wl, ts_depth, ts_err)
s_ir = make_source(ir_wl, ir_depth, ir_err)
r_ts = draw_series(p2, s_ts, CYAN, "circle", 8.5)
r_ir = draw_series(p2, s_ir, GRAY, "triangle", 15)
add_model(p2)
add_legend(p2, [("transitspectroscopy", r_ts), ("iraclis", r_ir)], 65)
ya2 = p2.yaxis[0]
ya2.axis_label = "transit depth [%]"
ya2.axis_label_text_font = FONT
ya2.axis_label_text_font_size = "37px"
ya2.axis_label_text_font_style = "normal"
ya2.axis_label_text_color = "black"
ya2.axis_label_standoff = 13

# ---------------- panel 3 ----------------
p3 = make_fig(30, 100, True)
add_top_ticks(p3, 30)
s_sp = make_source(sp_wl, sp_depth, sp_err)
s_nm = make_source(nm_wl, nm_depth, nm_err)
r_sp = draw_series(p3, s_sp, ORANGE, "circle", 8.5)
r_nm = draw_series(p3, s_nm, PURPLE, "triangle", 15)
add_model(p3)
add_legend(p3, [("supreme-SPOON", r_sp), ("NAMELESS", r_nm)], 64)

layout = column(p1, p2, p3, spacing=0)

open("out.html", "w").write(file_html(layout, INLINE))
